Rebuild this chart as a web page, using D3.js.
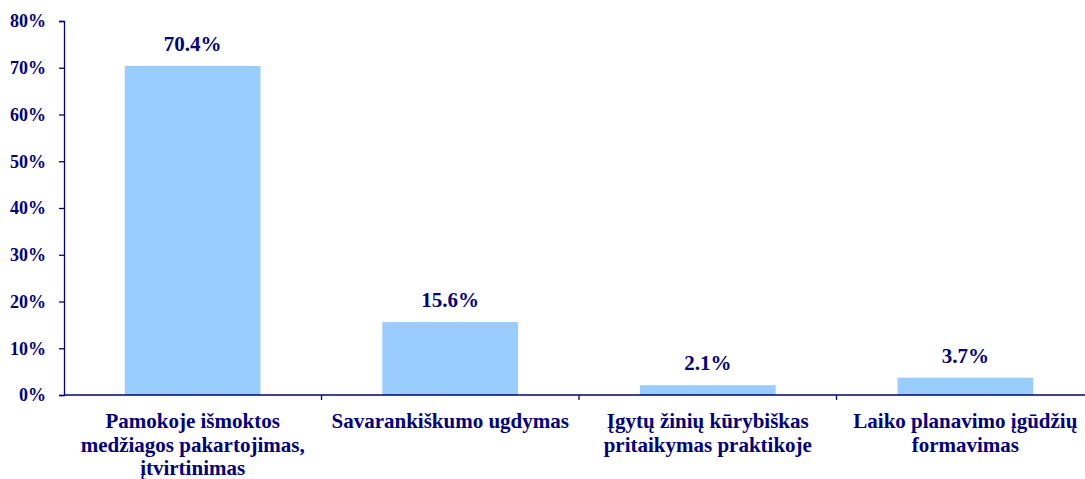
<!DOCTYPE html>
<html>
<head>
<meta charset="utf-8">
<script src="https://d3js.org/d3.v7.min.js"></script>
<style>
  body { margin: 0; background: #fff; }
  #chart { font-family: "Liberation Serif", "Times New Roman", serif; font-weight: bold; }
  .axis path, .axis line { stroke: #000080; stroke-width: 1.3; }
  .axis text { fill: #000080; font-size: 18px; font-family: "Liberation Serif", serif; font-weight: bold; }
</style>
</head>
<body>
<div id="chart"></div>
<script>
  // data
  var categories = [
    ["Pamokoje išmoktos", "medžiagos pakartojimas,", "įtvirtinimas"],
    ["Savarankiškumo ugdymas"],
    ["Įgytų žinių kūrybiškas", "pritaikymas praktikoje"],
    ["Laiko planavimo įgūdžių", "formavimas"]
  ];
  var values = [70.4, 15.6, 2.1, 3.7];
  var yTicks = [0, 10, 20, 30, 40, 50, 60, 70, 80];

  var W = 1085, H = 479;
  var plotLeft = 64, plotRight = 1094, plotTop = 21, plotBottom = 395;
  var navy = "#000080";

  var svg = d3.select("#chart").append("svg")
      .attr("width", W)
      .attr("height", H);

  var x = d3.scaleBand()
      .domain(d3.range(categories.length))
      .range([plotLeft, plotRight])
      .paddingInner(0.473)
      .paddingOuter(0.236);

  var xBoundary = d3.scaleLinear()
      .domain([0, categories.length])
      .range([plotLeft, plotRight]);

  var y = d3.scaleLinear()
      .domain([0, 80])
      .range([plotBottom, plotTop]);

  // bars
  svg.selectAll("rect.bar")
      .data(values)
      .enter().append("rect")
      .attr("class", "bar")
      .attr("x", function(d, i) { return x(i); })
      .attr("y", function(d) { return y(d); })
      .attr("width", x.bandwidth())
      .attr("height", function(d) { return y(0) - y(d); })
      .attr("fill", "#99CCFF");

  // y axis
  svg.append("g")
      .attr("class", "axis")
      .attr("transform", "translate(" + plotLeft + ",0)")
      .call(d3.axisLeft(y).tickValues(yTicks).tickSize(5).tickSizeOuter(5).tickPadding(13)
        .tickFormat(function(d) { return d + "%"; }));

  // x axis line + boundary ticks
  var xa = svg.append("g").attr("class", "axis");
  xa.append("line")
      .attr("x1", plotLeft).attr("x2", plotRight)
      .attr("y1", y(0)).attr("y2", y(0));
  xa.selectAll("line.tick")
      .data(d3.range(1, categories.length + 1))
      .enter().append("line")
      .attr("class", "tick")
      .attr("x1", function(d) { return xBoundary(d); })
      .attr("x2", function(d) { return xBoundary(d); })
      .attr("y1", y(0)).attr("y2", y(0) + 5);

  // value labels
  svg.selectAll("text.val")
      .data(values)
      .enter().append("text")
      .attr("class", "val")
      .attr("x", function(d, i) { return x(i) + x.bandwidth() / 2; })
      .attr("y", function(d) { return y(d) - 15; })
      .attr("text-anchor", "middle")
      .attr("fill", navy)
      .style("font-size", "21px")
      .text(function(d) { return d.toFixed(1) + "%"; });

  // category labels
  var cat = svg.selectAll("text.cat")
      .data(categories)
      .enter().append("text")
      .attr("class", "cat")
      .attr("text-anchor", "middle")
      .attr("fill", navy)
      .style("font-size", "21px");
  cat.selectAll("tspan")
      .data(function(d, i) { return d.map(function(s) { return { s: s, i: i }; }); })
      .enter().append("tspan")
      .attr("x", function(d) { return x(d.i) + x.bandwidth() / 2; })
      .attr("y", function(d, j) { return 428 + j * 23.5; })
      .text(function(d) { return d.s; });
</script>
</body>
</html>
